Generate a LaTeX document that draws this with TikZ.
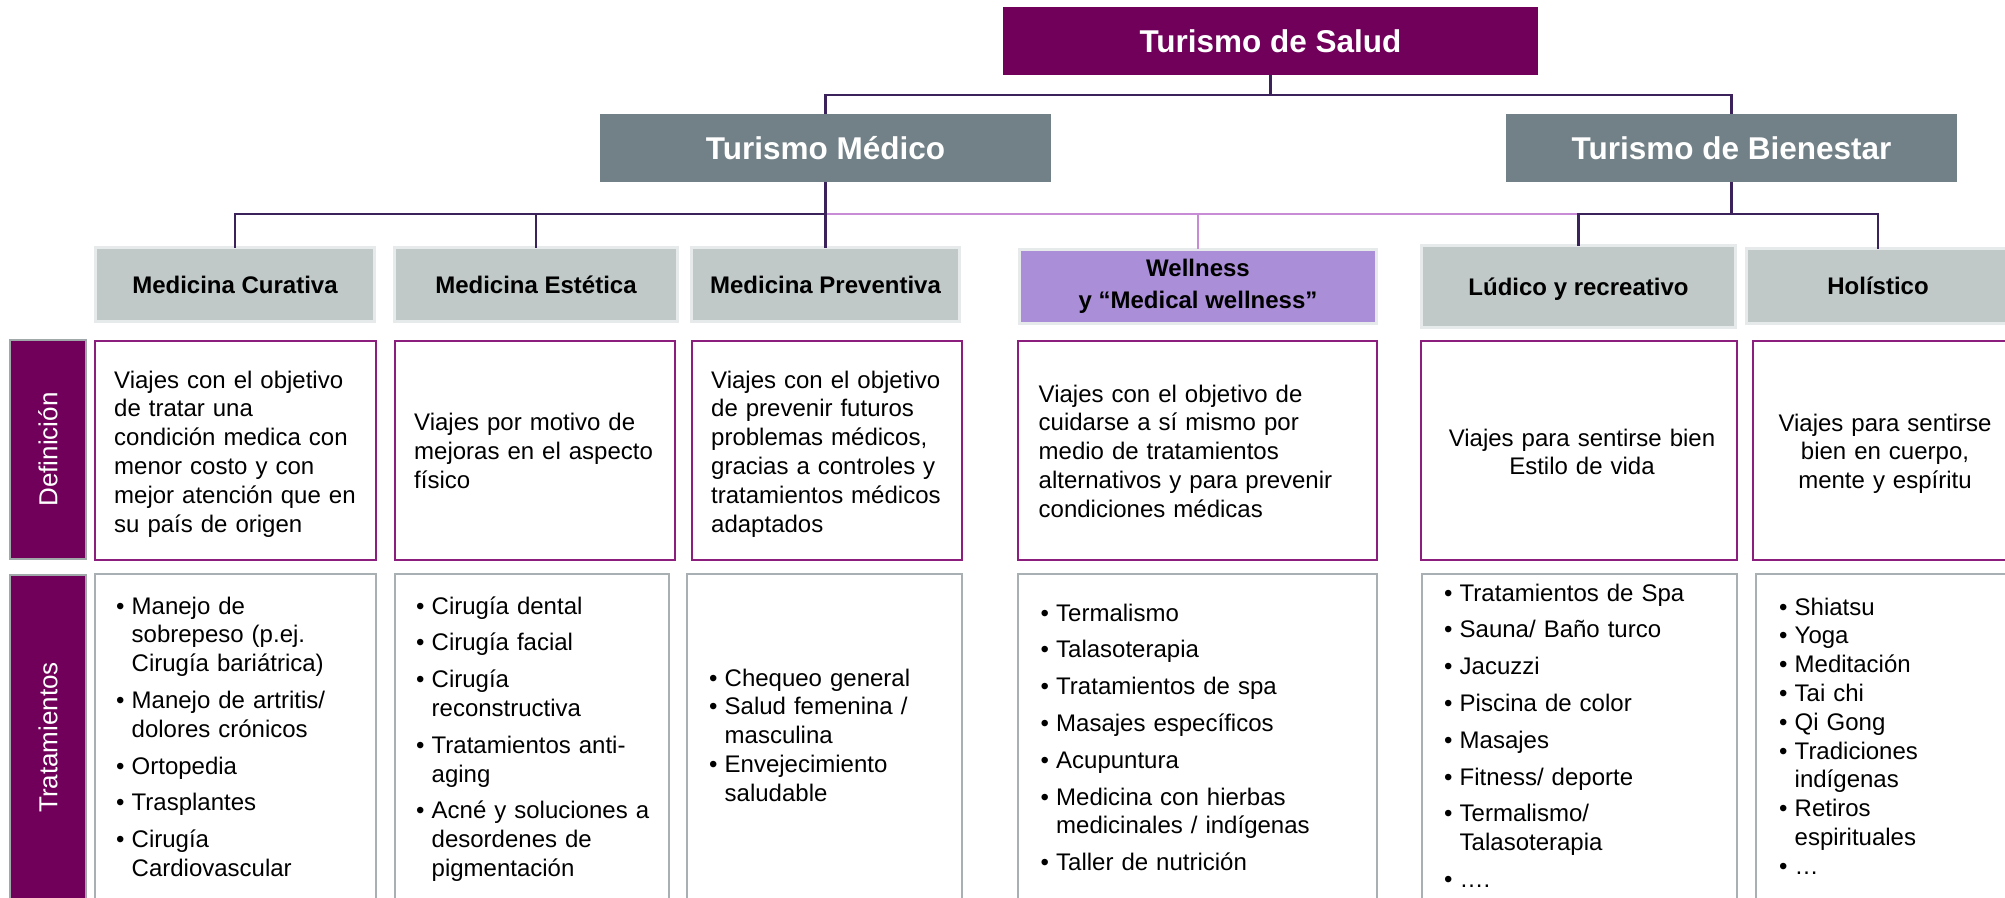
\documentclass[tikz,border=0pt]{standalone}
\usepackage{fontspec}
\setmainfont{Liberation Sans}
\definecolor{saludC}{RGB}{112,0,90}
\definecolor{greyC}{RGB}{114,129,135}
\definecolor{childF}{RGB}{192,200,200}
\definecolor{childB}{RGB}{230,234,234}
\definecolor{wellF}{RGB}{170,142,216}
\definecolor{connC}{RGB}{60,34,90}
\definecolor{pinkC}{RGB}{200,140,215}
\definecolor{defB}{RGB}{140,30,125}
\definecolor{trtB}{RGB}{168,176,180}
\definecolor{lblB}{RGB}{160,168,170}
\newcommand{\bu}{\makebox[15.5pt][l]{•}}
\newcommand{\ind}{\hspace*{15.5pt}}
\begin{document}
\begin{tikzpicture}[x=1pt,y=-1pt,
  plainbox/.style={rectangle, inner sep=0pt, outer sep=0pt},
  saludbox/.style={plainbox, fill=saludC, text=white, font=\bfseries\fontsize{31.5}{36}\selectfont, text height=22.7pt, text depth=0pt},
  lvlbox/.style={saludbox, fill=greyC},
  catbox/.style={plainbox, fill=childF, draw=childB, line width=3pt, font=\bfseries\fontsize{24}{29}\selectfont, text height=17.3pt, text depth=0pt},
  wcatbox/.style={plainbox, fill=wellF, draw=childB, line width=3pt, font=\bfseries\fontsize{24}{32}\selectfont, align=center},
  rowlbl/.style={plainbox, fill=saludC, draw=lblB, line width=2pt},
  rowtxt/.style={inner sep=0pt, text=white, font=\fontsize{26}{30}\selectfont, rotate=90},
  defbox/.style={plainbox, fill=white, draw=defB, line width=2pt},
  trtbox/.style={plainbox, fill=white, draw=trtB, line width=2pt},
  txt/.style={inner sep=0pt, font=\fontsize{24}{28.8}\selectfont, text width=330pt, align=left, anchor=base west},
  ctxt/.style={inner sep=0pt, font=\fontsize{24}{28.8}\selectfont, text width=330pt, align=center, anchor=base},
  conn/.style={draw=connC, line width=2.3pt},
  pconn/.style={draw=pinkC, line width=2pt}]
\useasboundingbox (0,0) rectangle (2005,897);
\clip (0,0) rectangle (2005,897);
\fill[white] (0,0) rectangle (2005,897);

\coordinate (bus1) at (0,95);
\coordinate (bus2) at (0,214);

% top levels
\node[saludbox, minimum width=535pt, minimum height=68pt] (salud) at (1270.5,41) {Turismo de Salud};
\node[lvlbox, minimum width=451pt, minimum height=68pt] (medico) at (825.5,148) {Turismo Médico};
\node[lvlbox, minimum width=451pt, minimum height=68pt] (bien) at (1731.5,148) {Turismo de Bienestar};

% categories
\node[catbox, minimum width=279pt, minimum height=74pt] (cur) at (235,284.5) {Medicina Curativa};
\node[catbox, minimum width=283pt, minimum height=74pt] (est) at (536,284.5) {Medicina Estética};
\node[catbox, minimum width=268pt, minimum height=74pt] (prev) at (825.5,284.5) {Medicina Preventiva};
\node[wcatbox, minimum width=357pt, minimum height=74pt] (well) at (1198,286) {Wellness\\y “Medical wellness”};
\node[catbox, minimum width=314pt, minimum height=82pt] (lud) at (1578.5,286.5) {Lúdico y recreativo};
\node[catbox, minimum width=263pt, minimum height=75pt] (hol) at (1878,286) {Holístico};

% connectors
\draw[conn] (salud.south) -- (salud.south |- bus1) -| (medico.north);
\draw[conn] (salud.south |- bus1) -| (bien.north);
\draw[pconn] (medico.south |- bus2) -- (lud.north |- bus2);
\draw[pconn] (well.north |- bus2) -- (well.north);
\draw[conn] (medico.south) -- (prev.north);
\draw[conn] (medico.south |- bus2) -| (cur.north);
\draw[conn] (medico.south |- bus2) -| (est.north);
\draw[conn] (bien.south) -- (bien.south |- bus2);
\draw[conn] (lud.north) |- (bus2 -| hol.north) -- (hol.north);

% row labels
\node[rowlbl, minimum width=76pt, minimum height=219pt] (defL) at (48,449.5) {};
\node[rowtxt] (defT) at (defL.center) {Definición};
\node[rowlbl, minimum width=76pt, minimum height=325pt] (trtL) at (48,737.5) {};
\node[rowtxt] (trtT) at (trtL.center) {Tratamientos};

% definition boxes
\node[defbox, minimum width=281pt, minimum height=219pt] (d1) at (235.5,450.5) {};
\node[defbox, minimum width=280pt, minimum height=219pt] (d2) at (535,450.5) {};
\node[defbox, minimum width=270pt, minimum height=219pt] (d3) at (827,450.5) {};
\node[defbox, minimum width=359pt, minimum height=219pt] (d4) at (1197.5,450.5) {};
\node[defbox, minimum width=316pt, minimum height=219pt] (d5) at (1579,450.5) {};
\node[defbox, minimum width=264pt, minimum height=219pt] (d6) at (1885,450.5) {};

\node[txt] (d1t) at (114,388) {Viajes con el objetivo\\ de tratar una\\ condición medica con\\ menor costo y con\\ mejor atención que en\\ su país de origen};
\node[txt] (d2t) at (414,430.5) {Viajes por motivo de\\ mejoras en el aspecto\\ físico};
\node[txt] (d3t) at (711,388) {Viajes con el objetivo\\ de prevenir futuros\\ problemas médicos,\\ gracias a controles y\\ tratamientos médicos\\ adaptados};
\node[txt] (d4t) at (1038.5,402) {Viajes con el objetivo de\\ cuidarse a sí mismo por\\ medio de tratamientos\\ alternativos y para prevenir\\ condiciones médicas};
\node[ctxt] (d5t) at (1582,446) {Viajes para sentirse bien\\ Estilo de vida};
\node[ctxt] (d6t) at (1885,431) {Viajes para sentirse\\ bien en cuerpo,\\ mente y espíritu};

% treatment boxes
\node[trtbox, minimum width=281pt, minimum height=331pt] (t1) at (235.5,739.5) {};
\node[trtbox, minimum width=274pt, minimum height=331pt] (t2) at (532,739.5) {};
\node[trtbox, minimum width=275pt, minimum height=331pt] (t3) at (824.5,739.5) {};
\node[trtbox, minimum width=359pt, minimum height=331pt] (t4) at (1197.5,739.5) {};
\node[trtbox, minimum width=315pt, minimum height=331pt] (t5) at (1579.5,739.5) {};
\node[trtbox, minimum width=261pt, minimum height=331pt] (t6) at (1886.5,739.5) {};

\node[txt] (t1t) at (116,614) {\bu Manejo de\\ \ind sobrepeso (p.ej.\\ \ind Cirugía bariátrica)\\[8pt] \bu Manejo de artritis/\\ \ind dolores crónicos\\[8pt] \bu Ortopedia\\[8pt] \bu Trasplantes\\[8pt] \bu Cirugía\\ \ind Cardiovascular};
\node[txt] (t2t) at (416,614) {\bu Cirugía dental\\[8pt] \bu Cirugía facial\\[8pt] \bu Cirugía\\ \ind reconstructiva\\[8pt] \bu Tratamientos anti-\\ \ind aging\\[8pt] \bu Acné y soluciones a\\ \ind desordenes de\\ \ind pigmentación};
\node[txt] (t3t) at (709,686) {\bu Chequeo general\\ \bu Salud femenina /\\ \ind masculina\\ \bu Envejecimiento\\ \ind saludable};
\node[txt] (t4t) at (1040.5,621) {\bu Termalismo\\[8pt] \bu Talasoterapia\\[8pt] \bu Tratamientos de spa\\[8pt] \bu Masajes específicos\\[8pt] \bu Acupuntura\\[8pt] \bu Medicina con hierbas\\ \ind medicinales / indígenas\\[8pt] \bu Taller de nutrición};
\node[txt] (t5t) at (1444,601) {\bu Tratamientos de Spa\\[8pt] \bu Sauna/ Baño turco\\[8pt] \bu Jacuzzi\\[8pt] \bu Piscina de color\\[8pt] \bu Masajes\\[8pt] \bu Fitness/ deporte\\[8pt] \bu Termalismo/\\ \ind Talasoterapia\\[8pt] \bu ….};
\node[txt] (t6t) at (1779,615) {\bu Shiatsu\\ \bu Yoga\\ \bu Meditación\\ \bu Tai chi\\ \bu Qi Gong\\ \bu Tradiciones\\ \ind indígenas\\ \bu Retiros\\ \ind espirituales\\ \bu …};
\end{tikzpicture}
\end{document}
